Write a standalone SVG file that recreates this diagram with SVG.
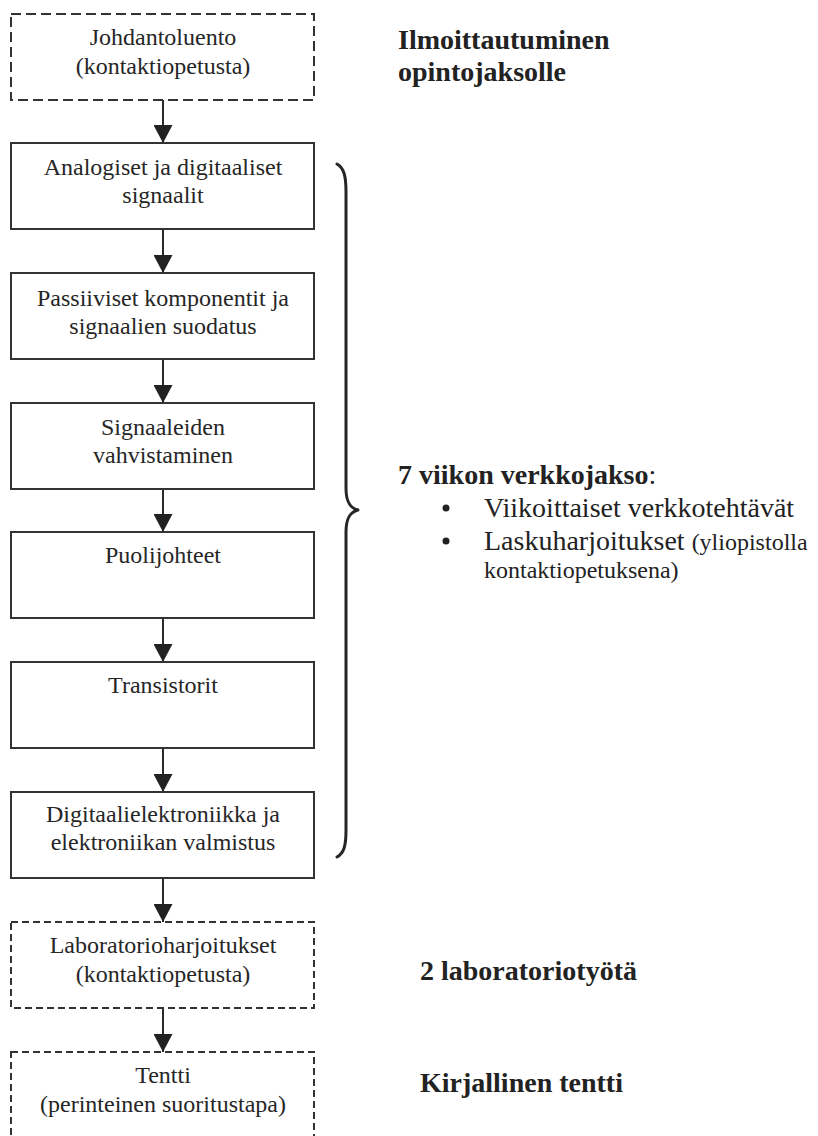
<svg xmlns="http://www.w3.org/2000/svg" width="818" height="1136" viewBox="0 0 818 1136">
  <style>
    .box { fill: #ffffff; stroke: #333333; stroke-width: 2; }
    .dash1 { stroke-dasharray: 10 5; }
    .dash2 { stroke-dasharray: 7 4; }
    .t { font-family: "Liberation Serif", "Times New Roman", serif; font-size: 24px; fill: #262626; text-anchor: middle; }
    .side { font-family: "Liberation Serif", "Times New Roman", serif; font-size: 28px; fill: #222222; }
    .b { font-weight: bold; }
    .small { font-size: 24px; }
    .conn { stroke: #2a2a2a; stroke-width: 2; fill: none; marker-end: url(#arrow); }
    .brace { stroke: #262626; stroke-width: 3; fill: none; stroke-linecap: round; stroke-linejoin: round; }
  </style>
  <defs>
    <marker id="arrow" viewBox="0 0 18 19" refX="18" refY="9.5" markerWidth="18" markerHeight="19" markerUnits="userSpaceOnUse" orient="auto">
      <path d="M0,0 L18,9.5 L0,19 z" fill="#222222"/>
    </marker>
  </defs>
  <rect width="818" height="1136" fill="#ffffff"/>

  <g id="connectors">
    <line class="conn" x1="163" y1="100" x2="163" y2="143"/>
    <line class="conn" x1="163" y1="229" x2="163" y2="273"/>
    <line class="conn" x1="163" y1="359" x2="163" y2="403"/>
    <line class="conn" x1="163" y1="489" x2="163" y2="532"/>
    <line class="conn" x1="163" y1="618" x2="163" y2="662"/>
    <line class="conn" x1="163" y1="748" x2="163" y2="792"/>
    <line class="conn" x1="163" y1="878" x2="163" y2="922"/>
    <line class="conn" x1="163" y1="1008" x2="163" y2="1052"/>
  </g>

  <g id="johdantoluento">
    <rect class="box dash1" x="11" y="14" width="303" height="86"/>
    <text class="t" x="163" y="45">Johdantoluento</text>
    <text class="t" x="163" y="74">(kontaktiopetusta)</text>
  </g>
  <g id="signaalit">
    <rect class="box" x="11" y="143" width="303" height="86"/>
    <text class="t" x="163" y="175">Analogiset ja digitaaliset</text>
    <text class="t" x="163" y="203">signaalit</text>
  </g>
  <g id="passiiviset">
    <rect class="box" x="11" y="273" width="303" height="86"/>
    <text class="t" x="163" y="306">Passiiviset komponentit ja</text>
    <text class="t" x="163" y="334">signaalien suodatus</text>
  </g>
  <g id="vahvistaminen">
    <rect class="box" x="11" y="403" width="303" height="86"/>
    <text class="t" x="163" y="435">Signaaleiden</text>
    <text class="t" x="163" y="463">vahvistaminen</text>
  </g>
  <g id="puolijohteet">
    <rect class="box" x="11" y="532" width="303" height="86"/>
    <text class="t" x="163" y="563">Puolijohteet</text>
  </g>
  <g id="transistorit">
    <rect class="box" x="11" y="662" width="303" height="86"/>
    <text class="t" x="163" y="693">Transistorit</text>
  </g>
  <g id="digitaalielektroniikka">
    <rect class="box" x="11" y="792" width="303" height="86"/>
    <text class="t" x="163" y="822">Digitaalielektroniikka ja</text>
    <text class="t" x="163" y="850">elektroniikan valmistus</text>
  </g>
  <g id="laboratorio">
    <rect class="box dash2" x="11" y="922" width="303" height="86"/>
    <text class="t" x="163" y="953">Laboratorioharjoitukset</text>
    <text class="t" x="163" y="982">(kontaktiopetusta)</text>
  </g>
  <g id="tentti">
    <rect class="box dash2" x="11" y="1052" width="303" height="96"/>
    <text class="t" x="163" y="1083">Tentti</text>
    <text class="t" x="163" y="1112">(perinteinen suoritustapa)</text>
  </g>

  <g id="brace">
    <path class="brace" d="M337,164 C344,168 346,176 346,192 L346,488 C346,502 350,508 358,510 C350,512 346,518 346,532 L346,830 C346,846 344,853 337,857"/>
  </g>

  <g id="labels">
    <text class="side b" x="398" y="49">Ilmoittautuminen</text>
    <text class="side b" x="398" y="81">opintojaksolle</text>

    <text class="side" x="398" y="484"><tspan class="b">7 viikon verkkojakso</tspan>:</text>
    <circle cx="446" cy="508" r="3.5" fill="#222222"/>
    <text class="side" x="484" y="517">Viikoittaiset verkkotehtävät</text>
    <circle cx="446" cy="541" r="3.5" fill="#222222"/>
    <text class="side" x="484" y="550">Laskuharjoitukset <tspan class="small">(yliopistolla</tspan></text>
    <text class="side small" x="484" y="578">kontaktiopetuksena)</text>

    <text class="side b" x="420" y="980">2 laboratoriotyötä</text>
    <text class="side b" x="420" y="1092">Kirjallinen tentti</text>
  </g>
</svg>
